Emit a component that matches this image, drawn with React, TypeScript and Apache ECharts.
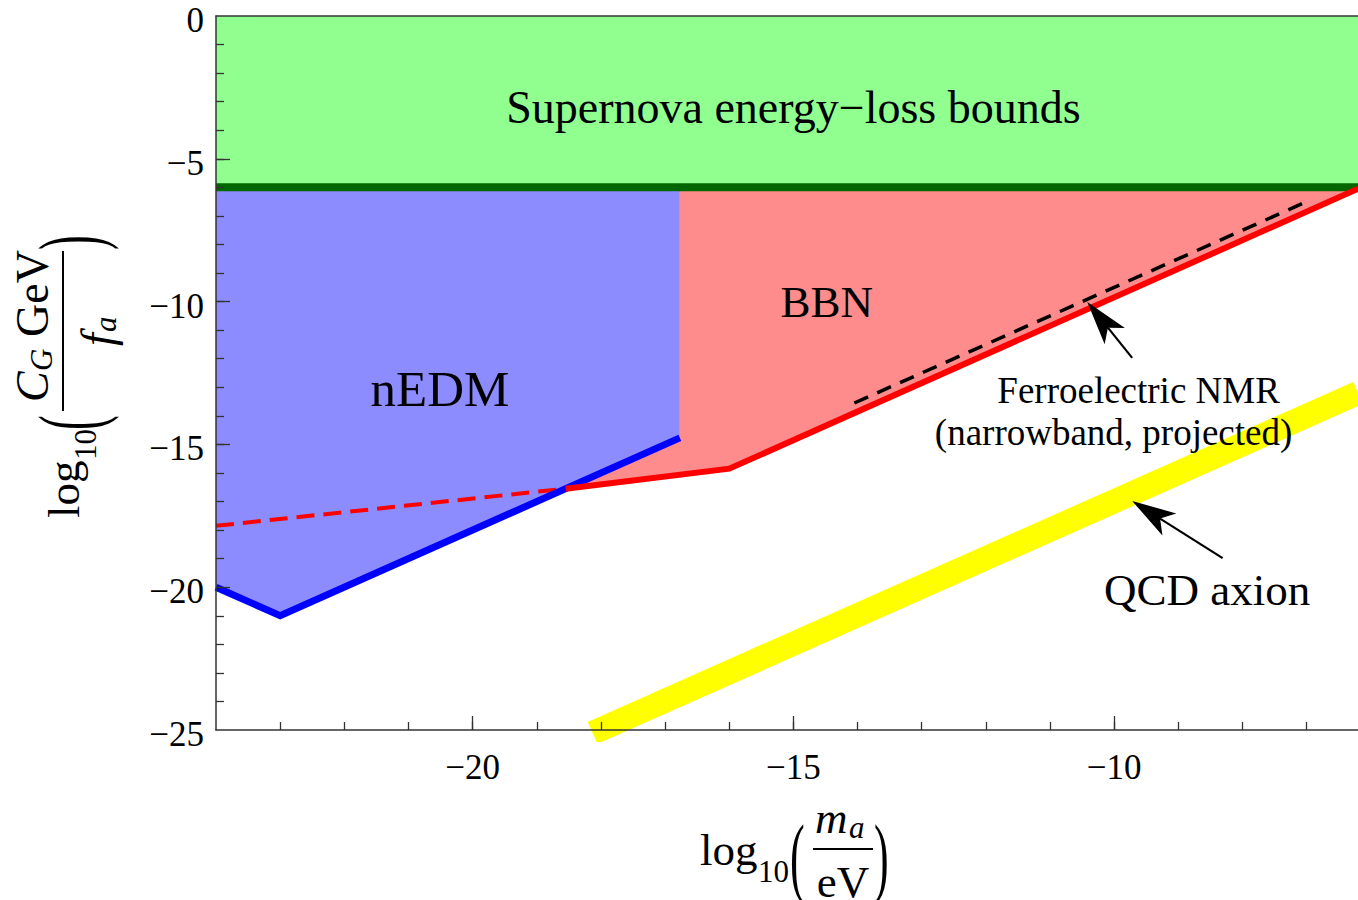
import React, { useEffect, useRef } from 'react';
import * as echarts from 'echarts';

// ---------- axis ranges and ticks ----------
const X_MIN = -24;
const X_MAX = -6.2;
const Y_MIN = -25;
const Y_MAX = 0;
const xMajorTicks = [-20, -15, -10];
const xMinorTicks = [-23, -22, -21, -20, -19, -18, -17, -16, -15, -14, -13, -12, -11, -10, -9, -8, -7];
const yMajorTicks = [0, -5, -10, -15, -20, -25];
const yMinorTicks = [-1, -2, -3, -4, -5, -6, -7, -8, -9, -10, -11, -12, -13, -14, -15, -16, -17, -18, -19, -20, -21, -22, -23, -24];

// ---------- regions and curves (log10 m_a/eV, log10 C_G GeV/f_a) ----------
const supernovaRegion = [[-24, 0], [-6.2, 0], [-6.2, -6], [-24, -6]];
const supernovaBound = [[-24, -6], [-6.2, -6]];
const nedmRegion = [[-24, -6], [-16.77, -6], [-16.77, -14.77], [-23, -21], [-24, -20]];
const nedmLine = [[-24, -20], [-23, -21], [-16.77, -14.77]];
const bbnRegion = [[-18.55, -16.55], [-16, -15.85], [-6.2, -6.05], [-6.2, -6], [-16.77, -6], [-16.77, -14.77]];
const bbnLine = [[-18.55, -16.55], [-16, -15.85], [-6.2, -6.05]];
const bbnDashed = [[-24, -17.85], [-18.55, -16.55]];
const ferroNMR = [[-14.05, -13.55], [-6.95, -6.45]];
const qcdAxion = [[-18.13, -25.1], [-6.2, -13.2]];

// ---------- annotations ----------
const labelTexts = ['Supernova energy\u2212loss bounds', 'BBN', 'nEDM', 'Ferroelectric NMR', '(narrowband, projected)', 'QCD axion'];
const labelX = [-15.0, -14.48, -20.51, -9.62, -10.01, -8.55];
const labelY = [-3.19, -10.0, -13.06, -13.1, -14.6, -20.1];
const arrowTail = [[-9.72, -11.97], [-8.31, -18.98]];
const arrowTip = [[-10.42, -10.01], [-9.72, -16.98]];

// ---------- styles ----------
const SERIF = '"Liberation Serif", "Times New Roman", serif';
const labelSizes = [46, 45, 51, 37, 37, 45];
const AXIS_COLOR = '#333';

const fmt = (v: number) => (v < 0 ? '\u2212' + Math.abs(v) : String(v));

function polygonSeries(pts: number[][], color: string, z: number) {
  return {
    type: 'custom',
    coordinateSystem: 'cartesian2d',
    xAxisIndex: 0,
    yAxisIndex: 0,
    silent: true,
    z,
    data: [pts[0]],
    encode: { x: 0, y: 1 },
    renderItem: (_params: any, api: any) => ({
      type: 'polygon',
      shape: { points: pts.map((p) => api.coord(p)) },
      style: { fill: color },
    }),
  };
}

function lineSeries(pts: number[][], color: string, width: number, z: number, dash?: number[]) {
  return {
    type: 'line',
    xAxisIndex: 0,
    yAxisIndex: 0,
    data: pts,
    symbol: 'none',
    silent: true,
    z,
    clip: true,
    lineStyle: { color, width, join: 'miter', cap: 'butt', type: dash ? dash : 'solid' },
  };
}

function txt(text: string, x: number, y: number, size: number, italic = false, align = 'left', scaleY = 1) {
  return {
    type: 'text',
    x,
    y,
    scaleY,
    style: {
      text,
      fontSize: size,
      fontFamily: SERIF,
      fontStyle: italic ? 'italic' : 'normal',
      fill: '#000',
      align,
      verticalAlign: 'middle',
    },
  };
}

// local layout: x from start of "log", y = 0 on the fraction bar
function mathTitle(numer: any[], denom: any[], barStart: number, barLen: number, parenX: number) {
  return [
    txt('log', 0, 1, 45),
    txt('10', 58, 22, 31),
    txt('(', parenX, 7, 44, false, 'left', 2),
    { type: 'line', shape: { x1: barStart, y1: 0, x2: barStart + barLen, y2: 0 }, style: { stroke: '#000', lineWidth: 2 } },
    ...numer,
    ...denom,
    txt(')', barStart + barLen + 1, 7, 44, false, 'left', 2),
  ];
}

export default function App() {
  const ref = useRef<HTMLDivElement>(null);
  useEffect(() => {
    if (!ref.current) return;
    const chart = echarts.init(ref.current, undefined, { renderer: 'svg' });

    const axisCommon = {
      type: 'value',
      min: X_MIN,
      max: X_MAX,
      z: 10,
      splitLine: { show: false },
    };
    const yCommon = {
      type: 'value',
      min: Y_MIN,
      max: Y_MAX,
      z: 10,
      splitLine: { show: false },
    };

    const bottomTitle = mathTitle(
      [txt('m', 115, -31, 45, true), txt('a', 149, -22, 31, true)],
      [txt('eV', 143, 33, 45, false, 'center')],
      113,
      60,
      90
    );
    const leftTitle = mathTitle(
      [
        txt('C', 116, -31, 46, true),
        txt('G', 147, -22, 31, true),
        txt('GeV', 181, -31, 46),
      ],
      [txt('f', 172, 34, 46, true), txt('a', 186, 42, 31, true)],
      107,
      160,
      88
    );

    const option: any = {
      animation: false,
      backgroundColor: '#ffffff',
      grid: { left: 216, top: 16, right: 0, bottom: 170, containLabel: false },
      xAxis: [
        {
          ...axisCommon,
          position: 'bottom',
          axisLine: { show: true, onZero: false, lineStyle: { color: AXIS_COLOR, width: 1.5 } },
          axisTick: { show: true, inside: true, length: 8, customValues: xMinorTicks, lineStyle: { color: AXIS_COLOR, width: 1.3 } },
          axisLabel: { show: true, customValues: xMajorTicks, formatter: fmt, fontSize: 35, fontFamily: SERIF, color: '#000', margin: 20 },
        },
        {
          ...axisCommon,
          position: 'bottom',
          axisLine: { show: false, onZero: false },
          axisTick: { show: true, inside: true, length: 14, customValues: xMajorTicks, lineStyle: { color: AXIS_COLOR, width: 1.3 } },
          axisLabel: { show: false },
        },
        {
          ...axisCommon,
          position: 'top',
          axisLine: { show: true, onZero: false, lineStyle: { color: AXIS_COLOR, width: 1.5 } },
          axisTick: { show: false },
          axisLabel: { show: false },
        },
      ],
      yAxis: [
        {
          ...yCommon,
          position: 'left',
          axisLine: { show: true, onZero: false, lineStyle: { color: AXIS_COLOR, width: 1.5 } },
          axisTick: { show: true, inside: true, length: 8, customValues: yMinorTicks, lineStyle: { color: AXIS_COLOR, width: 1.3 } },
          axisLabel: {
            show: true,
            customValues: yMajorTicks,
            formatter: (v: number) => '{a|' + fmt(v) + '}',
            rich: { a: { fontSize: 35, fontFamily: SERIF, color: '#000', padding: [9, 0, 0, 0] } },
            margin: 12,
          },
        },
        {
          ...yCommon,
          position: 'left',
          axisLine: { show: false, onZero: false },
          axisTick: { show: true, inside: true, length: 14, customValues: [-5, -10, -15, -20], lineStyle: { color: AXIS_COLOR, width: 1.3 } },
          axisLabel: { show: false },
        },
      ],
      series: [
        polygonSeries(supernovaRegion, '#90ff90', 1),
        polygonSeries(bbnRegion, '#ff8c8c', 1),
        polygonSeries(nedmRegion, '#8c8cff', 1),
        lineSeries(supernovaBound, '#006600', 8, 3),
        lineSeries(bbnDashed, '#ff0000', 4, 4, [18, 9]),
        lineSeries(nedmLine, '#0000ff', 7, 4),
        lineSeries(bbnLine, '#ff0000', 6, 5),
        lineSeries(ferroNMR, '#000000', 3.5, 6, [15, 10]),
        lineSeries(qcdAxion, '#ffff00', 24, 3),
        {
          type: 'custom',
          coordinateSystem: 'cartesian2d',
          xAxisIndex: 0,
          yAxisIndex: 0,
          silent: true,
          z: 20,
          data: labelX.map((x, i) => [x, labelY[i]]),
          encode: { x: 0, y: 1 },
          renderItem: (params: any, api: any) => {
            const p = api.coord([api.value(0), api.value(1)]);
            return {
              type: 'text',
              x: p[0],
              y: p[1],
              style: {
                text: labelTexts[params.dataIndex],
                fontSize: labelSizes[params.dataIndex],
                fontFamily: SERIF,
                fill: '#000',
                align: 'center',
                verticalAlign: 'middle',
              },
            };
          },
        },
        {
          type: 'custom',
          coordinateSystem: 'cartesian2d',
          xAxisIndex: 0,
          yAxisIndex: 0,
          silent: true,
          z: 20,
          data: arrowTail.map((t, i) => [t[0], t[1], arrowTip[i][0], arrowTip[i][1]]),
          encode: { x: [0, 2], y: [1, 3] },
          renderItem: (_params: any, api: any) => {
            const t = api.coord([api.value(0), api.value(1)]);
            const h = api.coord([api.value(2), api.value(3)]);
            const dx = h[0] - t[0];
            const dy = h[1] - t[1];
            const L = Math.hypot(dx, dy);
            const ux = dx / L;
            const uy = dy / L;
            const px = -uy;
            const py = ux;
            const headLen = 44;
            const halfW = 13;
            const notch = 33;
            const bx = h[0] - ux * headLen;
            const by = h[1] - uy * headLen;
            const nx = h[0] - ux * notch;
            const ny = h[1] - uy * notch;
            return {
              type: 'group',
              children: [
                { type: 'line', shape: { x1: t[0], y1: t[1], x2: nx, y2: ny }, style: { stroke: '#000', lineWidth: 2.2 } },
                {
                  type: 'polygon',
                  shape: { points: [h, [bx + px * halfW, by + py * halfW], [nx, ny], [bx - px * halfW, by - py * halfW]] },
                  style: { fill: '#000' },
                },
              ],
            };
          },
        },
      ],
      graphic: [
        { type: 'group', x: 700, y: 849, children: bottomTitle },
        { type: 'group', x: 63, y: 518, rotation: Math.PI / 2, children: leftTitle },
      ],
    };

    chart.setOption(option);
    return () => chart.dispose();
  }, []);

  return (
    <div
      ref={ref}
      style={{ position: 'absolute', left: 0, top: 0, width: 1358, height: 900, background: '#fff' }}
    />
  );
}
